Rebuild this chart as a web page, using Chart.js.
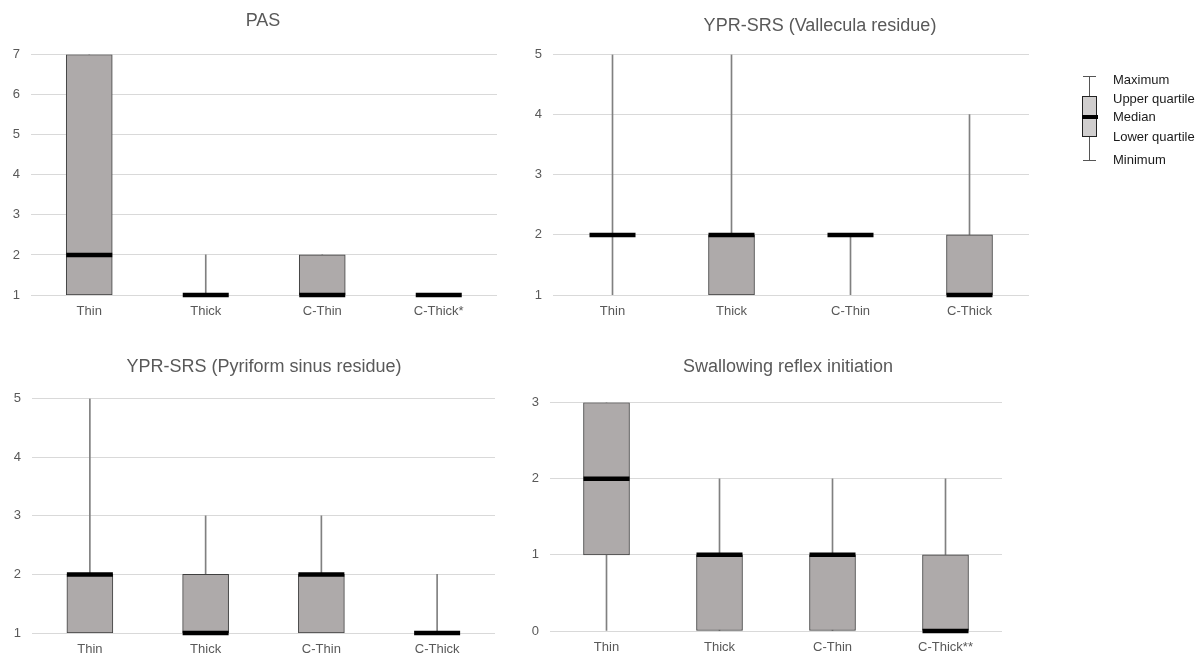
<!DOCTYPE html>
<html>
<head>
<meta charset="utf-8">
<script src="https://cdn.jsdelivr.net/npm/chart.js@4/dist/chart.umd.min.js"></script>
<style>
  html, body { margin: 0; padding: 0; background: #ffffff; }
  body { width: 1203px; height: 657px; position: relative; overflow: hidden; font-family: "Liberation Sans", Arial, sans-serif; }
  canvas { position: absolute; }
  .lg { position: absolute; }
  .lgt { position: absolute; left: 1113px; font-size: 13px; line-height: 16px; color: #1a1a1a; white-space: nowrap; }
</style>
</head>
<body>
<canvas id="c1" width="526" height="330" style="left:0px;top:0px;"></canvas>
<canvas id="c2" width="600" height="330" style="left:520px;top:0px;"></canvas>
<canvas id="c3" width="528" height="326" style="left:0px;top:335px;"></canvas>
<canvas id="c4" width="536" height="324" style="left:520px;top:335px;"></canvas>

<!-- Legend explaining the box plot -->
<div class="lg" style="left:1089px;top:76px;width:1px;height:85px;background:#555;"></div>
<div class="lg" style="left:1083px;top:76px;width:13px;height:1px;background:#555;"></div>
<div class="lg" style="left:1083px;top:160px;width:13px;height:1px;background:#555;"></div>
<div class="lg" style="left:1082px;top:96px;width:13px;height:39px;background:#d0cece;border:1.5px solid #222;"></div>
<div class="lg" style="left:1082px;top:115px;width:16px;height:4px;background:#000;"></div>
<div class="lgt" style="top:72px;">Maximum</div>
<div class="lgt" style="top:91px;">Upper quartile</div>
<div class="lgt" style="top:109px;">Median</div>
<div class="lgt" style="top:129px;">Lower quartile</div>
<div class="lgt" style="top:152px;">Minimum</div>

<script>
// ---------- DATA ----------
const pasCategories = ['Thin', 'Thick', 'C-Thin', 'C-Thick*'];
const pasMin    = [1, 1, 1, 1];
const pasQ1     = [1, 1, 1, 1];
const pasMedian = [2, 1, 1, 1];
const pasQ3     = [7, 1, 2, 1];
const pasMax    = [7, 2, 2, 1];
const pasYRange = [1, 7];

const valCategories = ['Thin', 'Thick', 'C-Thin', 'C-Thick'];
const valMin    = [1, 1, 1, 1];
const valQ1     = [2, 1, 2, 1];
const valMedian = [2, 2, 2, 1];
const valQ3     = [2, 2, 2, 2];
const valMax    = [5, 5, 2, 4];
const valYRange = [1, 5];

const pyrCategories = ['Thin', 'Thick', 'C-Thin', 'C-Thick'];
const pyrMin    = [1, 1, 1, 1];
const pyrQ1     = [1, 1, 1, 1];
const pyrMedian = [2, 1, 2, 1];
const pyrQ3     = [2, 2, 2, 1];
const pyrMax    = [5, 3, 3, 2];
const pyrYRange = [1, 5];

const swaCategories = ['Thin', 'Thick', 'C-Thin', 'C-Thick**'];
const swaMin    = [0, 0, 0, 0];
const swaQ1     = [1, 0, 0, 0];
const swaMedian = [2, 1, 1, 0];
const swaQ3     = [3, 1, 1, 1];
const swaMax    = [3, 2, 2, 2];
const swaYRange = [0, 3];

const titles = ['PAS', 'YPR-SRS (Vallecula residue)', 'YPR-SRS (Pyriform sinus residue)', 'Swallowing reflex initiation'];

// ---------- STYLE ----------
const FONT = '"Liberation Sans", Arial, sans-serif';
const TEXT = '#595959';
const GRID = '#d9d9d9';
const BOX_FILL = '#aeaaaa';
const BOX_EDGE = '#3f3f3f';
const WHISKER = '#808080';

function makeChart(id, title, cats, mn, q1, med, q3, mx, yr, lay) {
  const whiskers = mn.map((v, i) => [v, mx[i]]);
  const boxes = q1.map((v, i) => [v, q3[i]]);
  new Chart(document.getElementById(id), {
    type: 'bar',
    data: {
      labels: cats,
      datasets: [
        { type: 'line', data: med, showLine: false, pointStyle: 'line',
          pointRadius: 23, pointHoverRadius: 23, pointBorderWidth: 4.5, pointHoverBorderWidth: 4.5,
          pointBorderColor: '#000', pointBackgroundColor: '#000', borderColor: '#000',
          order: 0, clip: false },
        { data: boxes, backgroundColor: BOX_FILL, borderColor: BOX_EDGE, borderWidth: 1,
          borderSkipped: false, barThickness: 46, grouped: false, order: 1 },
        { data: whiskers, backgroundColor: WHISKER, borderWidth: 0,
          barThickness: 1, grouped: false, order: 2 }
      ]
    },
    options: {
      responsive: false,
      animation: false,
      devicePixelRatio: 1,
      events: [],
      layout: { padding: 0 },
      plugins: {
        legend: { display: false },
        tooltip: { enabled: false },
        title: {
          display: true, text: title, color: TEXT,
          font: { family: FONT, size: 18, weight: 'normal' },
          padding: { top: lay.tTop, bottom: lay.tBot }
        }
      },
      scales: {
        x: {
          grid: { display: false, drawTicks: false }, border: { display: false },
          ticks: { color: TEXT, font: { family: FONT, size: 13 }, padding: 9 },
          afterFit: s => { s.height = lay.xh; }
        },
        y: {
          min: yr[0], max: yr[1],
          grid: { color: GRID, lineWidth: 1, drawTicks: false },
          border: { display: false },
          ticks: { stepSize: 1, color: TEXT, font: { family: FONT, size: 13 }, padding: 11 },
          afterFit: s => { s.width = lay.yw; }
        },
        spacer: {
          type: 'linear', position: 'right', display: true, min: 0, max: 1,
          grid: { display: false }, border: { display: false },
          ticks: { display: false },
          afterFit: s => { s.width = lay.rw; }
        }
      }
    }
  });
}

makeChart('c1', titles[0], pasCategories, pasMin, pasQ1, pasMedian, pasQ3, pasMax, pasYRange,
  { tTop: 10, tBot: 23, xh: 35, yw: 31, rw: 29 });
makeChart('c2', titles[1], valCategories, valMin, valQ1, valMedian, valQ3, valMax, valYRange,
  { tTop: 15, tBot: 18, xh: 35, yw: 33, rw: 91 });
makeChart('c3', titles[2], pyrCategories, pyrMin, pyrQ1, pyrMedian, pyrQ3, pyrMax, pyrYRange,
  { tTop: 21, tBot: 21, xh: 28, yw: 32, rw: 33 });
makeChart('c4', titles[3], swaCategories, swaMin, swaQ1, swaMedian, swaQ3, swaMax, swaYRange,
  { tTop: 21, tBot: 25, xh: 28, yw: 30, rw: 54 });
</script>
</body>
</html>
